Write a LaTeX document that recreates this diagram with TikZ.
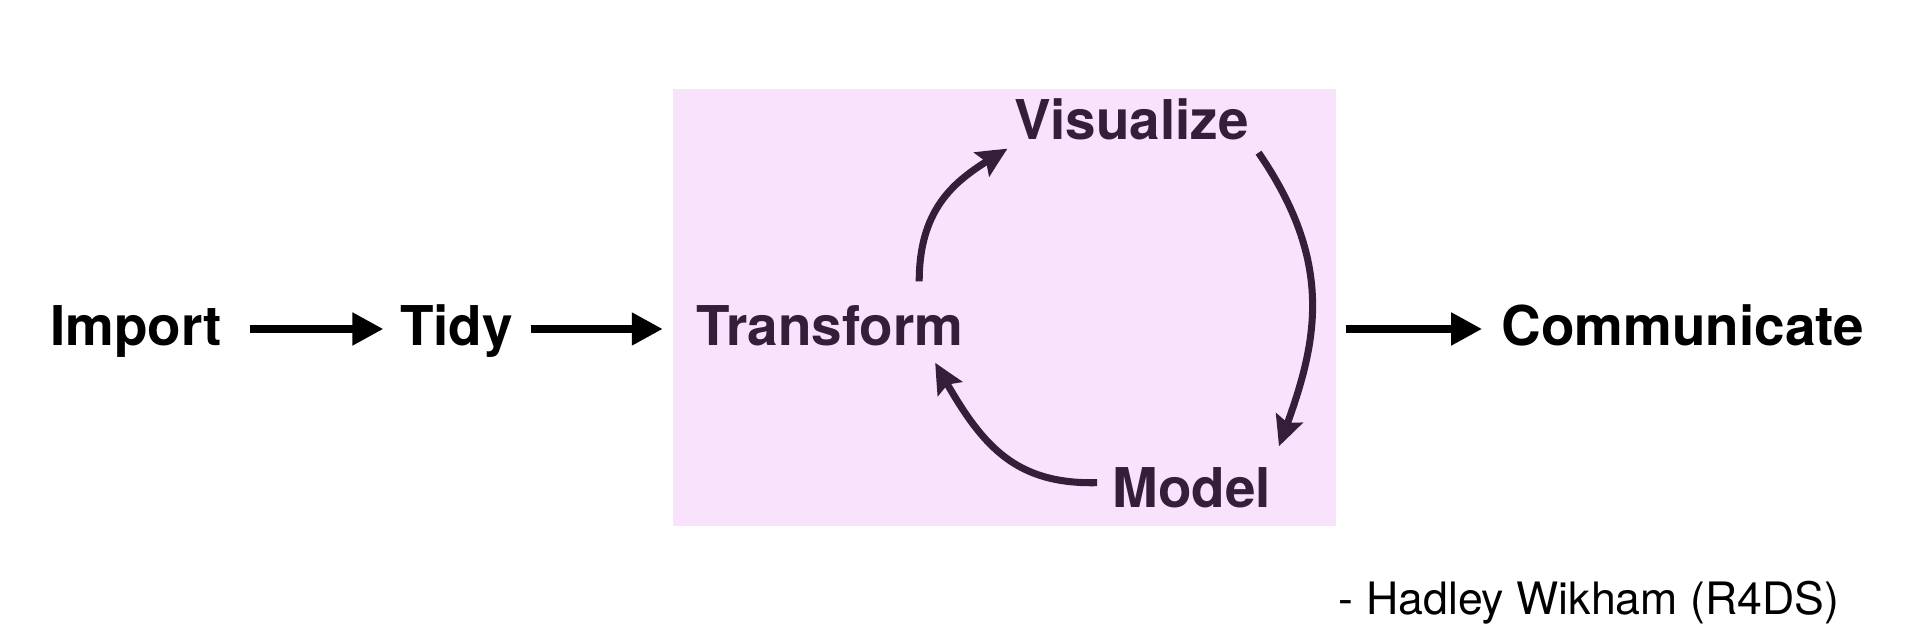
\documentclass[tikz,border=0pt]{standalone}
\usepackage{fontspec}
\setmainfont{TeX Gyre Heros}
\usepackage{xcolor}
\usepackage{tikz}
\usetikzlibrary{arrows.meta, bending, positioning}
\definecolor{loopfill}{RGB}{249,227,252}
\definecolor{loopcolor}{RGB}{52,30,57}

\begin{document}
\begin{tikzpicture}[
    stage/.style={inner sep=0pt, text height=3.4mm, text depth=0mm, anchor=base,
                  font=\fontsize{15.6}{18}\selectfont\bfseries},
    loopstage/.style={stage, text=loopcolor},
    quote/.style={inner sep=0pt, anchor=base, font=\fontsize{12.7}{15}\selectfont},
    flow/.style={-{Triangle[length=3.1mm, width=3.1mm]}, line width=2.3pt, black},
    cyclearrow/.style={-{Stealth[length=3mm, width=2.8mm, inset=0.5mm, bend]}, line width=2pt, loopcolor}
]
    \useasboundingbox (0,0) rectangle (19.13,6.33);

    % Explore loop
    \node[fill=loopfill, inner sep=0pt, minimum width=6.63cm, minimum height=4.37cm] (explore) at (10.045,3.255) {};

    % Stages
    \node[stage] (import) at (1.36,2.87) {Import};
    \node[stage] (tidy) at (4.565,2.87) {Tidy};
    \node[loopstage] (transform) at (8.30,2.87) {Transform};
    \node[loopstage] (visualize) at (11.315,4.93) {Visualize};
    \node[loopstage] (model) at (11.92,1.25) {Model};
    \node[stage] (communicate) at (16.83,2.87) {Communicate};

    % Straight flow
    \draw[flow, shorten <=2.7mm, shorten >=1.6mm] (import.east) -- (tidy.west);
    \draw[flow, shorten <=1.7mm, shorten >=3.3mm] (tidy.east) -- (transform.west);
    \draw[flow, shorten <=0.9mm, shorten >=1.9mm] (explore.east |- communicate.west) -- (communicate.west);

    % Cycle
    \draw[cyclearrow] ([xshift=-4.5mm, yshift=3mm]transform.north east)
        .. controls +(0,0.84) and +(-0.41,-0.25) .. ([xshift=-0.6mm, yshift=-0.8mm]visualize.south west);
    \draw[cyclearrow] ([xshift=0.9mm, yshift=-1.2mm]visualize.south east)
        .. controls +(0.81,-1.18) and +(0.36,0.95) .. ([xshift=0.7mm, yshift=2.7mm]model.north east);
    \draw[cyclearrow] ([xshift=-1.5mm, yshift=2.6mm]model.south west)
        .. controls +(-0.89,-0.02) and +(0.42,-0.76) .. ([xshift=-2.9mm, yshift=-1.6mm]transform.south east);

    % Source
    \node[quote] (source) at (15.89,0.18) {- Hadley Wikham (R4DS)};
\end{tikzpicture}
\end{document}
